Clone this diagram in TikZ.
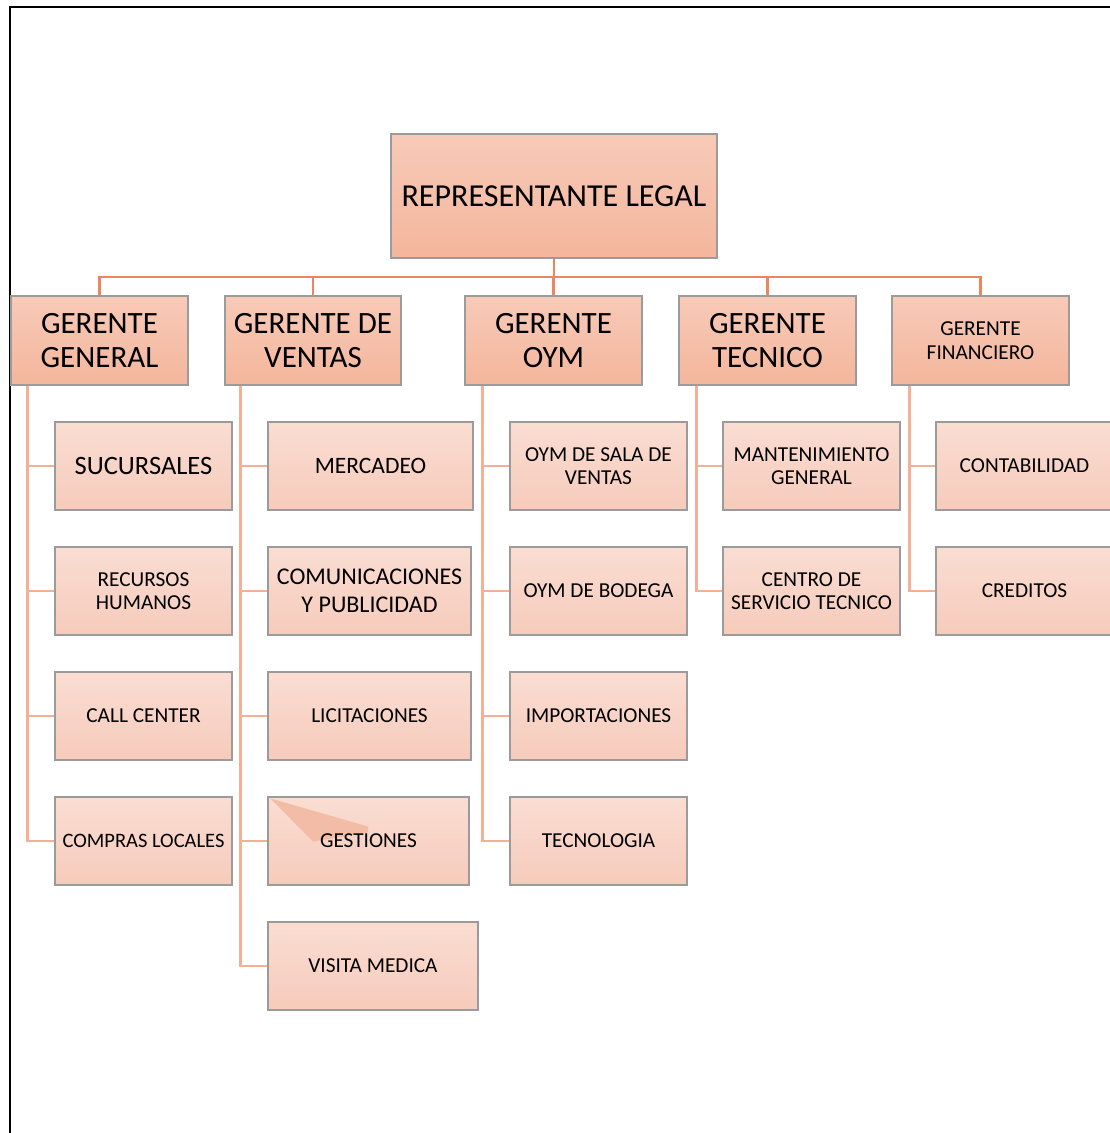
\documentclass[tikz,border=0pt]{standalone}
\usepackage{fontspec}
\setmainfont{Carlito}
\definecolor{boxtop}{RGB}{247,202,184}
\definecolor{boxbot}{RGB}{244,182,156}
\definecolor{kidtop}{RGB}{250,221,210}
\definecolor{kidbot}{RGB}{246,203,187}
\definecolor{busc}{RGB}{237,134,92}
\definecolor{kidline}{RGB}{244,176,148}
\definecolor{edge}{RGB}{155,155,155}
\definecolor{foldc}{RGB}{242,188,166}
\tikzset{
  x=1pt, y=-1pt,
  boss/.style={rectangle, draw=edge, line width=1.2pt, top color=boxtop, bottom color=boxbot,
    inner sep=0pt, align=center, text=black},
  mgr/.style={boss, minimum width=177pt, minimum height=89pt, font=\fontsize{31}{34}\selectfont},
  kid/.style={rectangle, draw=edge, line width=1.2pt, top color=kidtop, bottom color=kidbot,
    inner sep=0pt, align=center, text=black, minimum height=88pt, minimum width=177pt,
    font=\fontsize{21.3}{23.5}\selectfont},
  busline/.style={draw=busc, line width=2.6pt},
  kidconn/.style={draw=kidline, line width=2.8pt},
}
\begin{document}
\begin{tikzpicture}
\useasboundingbox (0,0) rectangle (1110,1133);
% frame
\draw[line width=1.7pt, black] (10,1140) -- (10,7) -- (1120,7);

% top
\node[boss, minimum width=326pt, minimum height=124pt, font=\fontsize{32}{34}\selectfont] (rl) at (554,196) {REPRESENTANTE LEGAL};

% managers
\node[mgr] (gg) at (99.5,340.5) {GERENTE\\GENERAL};
\node[mgr, minimum width=176pt] (gv) at (313,340.5) {GERENTE DE\\VENTAS};
\node[mgr] (go) at (553.5,340.5) {GERENTE\\OYM};
\node[mgr] (gt) at (767.5,340.5) {GERENTE\\TECNICO};
\node[mgr, font=\fontsize{21.3}{23.5}\selectfont] (gf) at (980.5,340.5) {GERENTE\\FINANCIERO};

% bus
\coordinate (busy) at (0,277);
\foreach \m in {gg,gv,go,gt,gf}{
  \draw[busline] (rl.south) -- (rl.south |- busy) -| (\m.north);
}

% column 1
\node[kid, font=\fontsize{26.5}{29}\selectfont] (k11) at (143.5,466) {SUCURSALES};
\node[kid] (k12) at (143.5,591) {RECURSOS\\HUMANOS};
\node[kid] (k13) at (143.5,716) {CALL CENTER};
\node[kid, font=\fontsize{20.5}{23}\selectfont] (k14) at (143.5,841) {COMPRAS LOCALES};

% column 2
\node[kid, minimum width=205pt, font=\fontsize{23.5}{26}\selectfont] (k21) at (370.5,466) {MERCADEO};
\node[kid, minimum width=203pt, font=\fontsize{24}{27.5}\selectfont] (k22) at (369.5,591) {COMUNICACIONES\\Y PUBLICIDAD};
\node[kid, minimum width=203pt] (k23) at (369.5,716) {LICITACIONES};
\node[kid, minimum width=201pt] (k24) at (368.5,841) {};
\fill[foldc] (270.5,798.5) -- (368,826.5) -- (368,832.5) -- (313,841.5) -- cycle;
\node[font=\fontsize{21.3}{23.5}\selectfont, inner sep=0pt] (k24t) at (k24.center) {GESTIONES};
\node[kid, minimum width=210pt] (k25) at (373,966) {VISITA MEDICA};

% column 3
\node[kid] (k31) at (598.5,466) {OYM DE SALA DE\\VENTAS};
\node[kid] (k32) at (598.5,591) {OYM DE BODEGA};
\node[kid] (k33) at (598.5,716) {IMPORTACIONES};
\node[kid] (k34) at (598.5,841) {TECNOLOGIA};

% column 4
\node[kid] (k41) at (811.5,466) {MANTENIMIENTO\\GENERAL};
\node[kid] (k42) at (811.5,591) {CENTRO DE\\SERVICIO TECNICO};

% column 5
\node[kid] (k51) at (1024.5,466) {CONTABILIDAD};
\node[kid] (k52) at (1024.5,591) {CREDITOS};

% connectors to children
\foreach \k in {k11,k12,k13,k14}{
  \draw[kidconn] ([xshift=17pt]gg.south west) |- (\k.west);
}
\foreach \k in {k21,k22,k23,k24,k25}{
  \draw[kidconn] ([xshift=16pt]gv.south west) |- (\k.west);
}
\foreach \k in {k31,k32,k33,k34}{
  \draw[kidconn] ([xshift=18pt]go.south west) |- (\k.west);
}
\foreach \k in {k41,k42}{
  \draw[kidconn] ([xshift=18pt]gt.south west) |- (\k.west);
}
\foreach \k in {k51,k52}{
  \draw[kidconn] ([xshift=18pt]gf.south west) |- (\k.west);
}
\end{tikzpicture}
\end{document}
